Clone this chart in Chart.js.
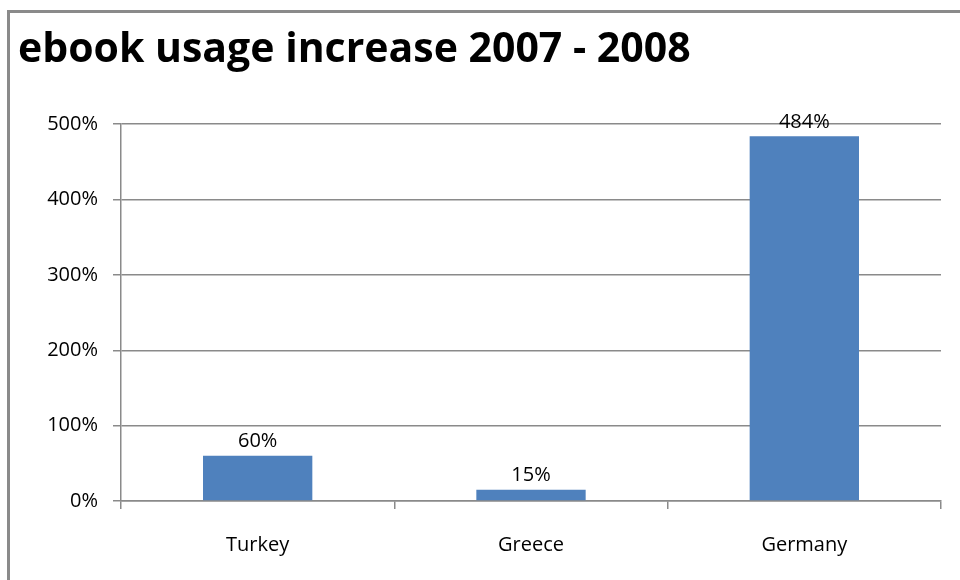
<!DOCTYPE html>
<html>
<head>
<meta charset="utf-8">
<script src="https://cdn.jsdelivr.net/npm/chart.js@4"></script>
<style>
    html, body { margin: 0; padding: 0; background: #fff; overflow: hidden; }
    #frame { position: absolute; left: 7px; top: 10px; width: 1000px; height: 620px; border: 3px solid #8a8a8a; }
    #wrap { position: absolute; left: 0; top: 0; width: 960px; height: 580px; }
</style>
</head>
<body>
<div id="frame"></div>
<div id="wrap"><canvas id="ebook-canvas"></canvas></div>
<script>
var countries = ['Turkey', 'Greece', 'Germany'];
var usageIncrease = [60, 15, 484];
var yTicks = [0, 100, 200, 300, 400, 500];

var valueLabels = {
    id: 'valueLabels',
    afterDatasetsDraw: function(chart) {
        var ctx = chart.ctx;
        var meta = chart.getDatasetMeta(0);
        ctx.save();
        ctx.font = '20px "Open Sans"';
        ctx.fillStyle = '#000';
        ctx.textAlign = 'center';
        ctx.textBaseline = 'bottom';
        meta.data.forEach(function(bar, i) {
            ctx.fillText(usageIncrease[i] + '%', bar.x, bar.y - 4);
        });
        ctx.restore();
    }
};

document.addEventListener('DOMContentLoaded', function() {
    var canvas = document.getElementById('ebook-canvas').getContext('2d');

    new Chart(canvas, {
        type: 'bar',
        data: {
            labels: countries,
            datasets: [{
                label: 'ebook usage increase',
                data: usageIncrease,
                backgroundColor: '#4F81BD',
                categoryPercentage: 1,
                barPercentage: 0.4
            }]
        },
        options: {
            responsive: true,
            maintainAspectRatio: false,
            animation: false,
            layout: {
                padding: { left: 18, right: 19, top: 0, bottom: 23 }
            },
            plugins: {
                legend: { display: false },
                tooltip: { enabled: false },
                title: {
                    display: true,
                    text: 'ebook usage increase 2007 - 2008',
                    align: 'start',
                    color: '#000',
                    font: { family: 'Open Sans', size: 41, weight: 'bold', lineHeight: 1.2 },
                    padding: { top: 26, bottom: 49 }
                }
            },
            scales: {
                y: {
                    min: 0,
                    max: 500,
                    afterBuildTicks: function(axis) {
                        axis.ticks = yTicks.map(function(v) { return { value: v }; });
                    },
                    afterFit: function(axis) {
                        axis.width = 103;
                    },
                    ticks: {
                        color: '#000',
                        padding: 15,
                        font: { family: 'Open Sans', size: 20 },
                        callback: function(v) { return v + '%'; }
                    },
                    grid: { color: '#8a8a8a', lineWidth: 1.5, tickLength: 8 },
                    border: { color: '#8a8a8a', width: 1.5 }
                },
                x: {
                    afterFit: function(axis) {
                        axis.height = 56;
                    },
                    ticks: {
                        color: '#000',
                        padding: 24,
                        font: { family: 'Open Sans', size: 20 }
                    },
                    grid: { offset: true, drawOnChartArea: false, color: '#8a8a8a', lineWidth: 1.5, tickLength: 8 },
                    border: { color: '#8a8a8a', width: 1.5 }
                }
            }
        },
        plugins: [valueLabels]
    });
});
</script>
</body>
</html>
